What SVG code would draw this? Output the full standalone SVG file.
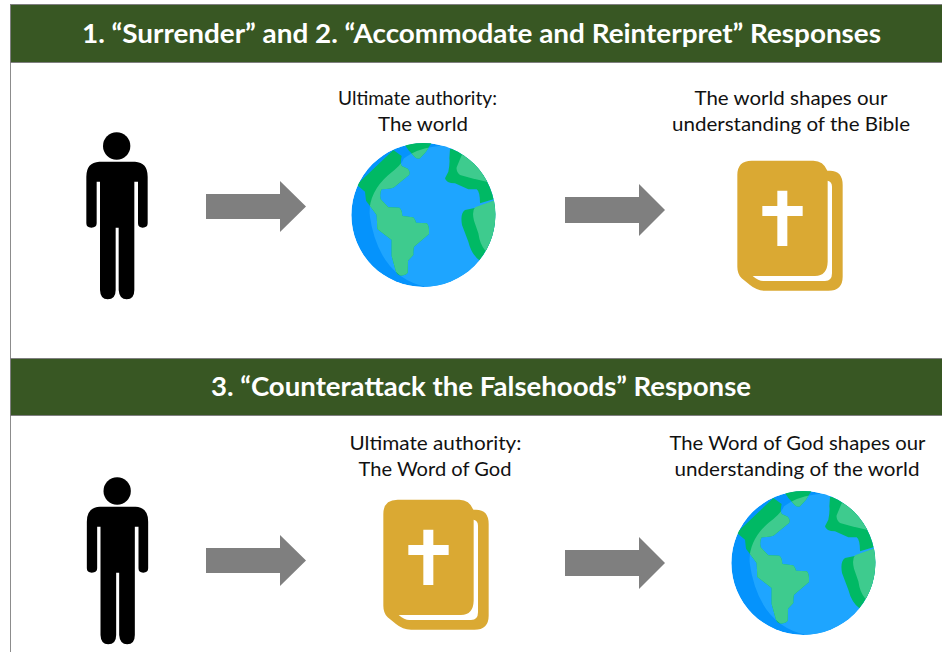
<svg xmlns="http://www.w3.org/2000/svg" width="942" height="652" viewBox="0 0 942 652">
<style>
text{font-family:"Lato","Noto Sans","Liberation Sans",sans-serif}
.hd{font-size:27px;font-weight:700;fill:#fff;text-anchor:middle}
.lb{font-size:20px;fill:#111;text-anchor:middle}
.band{fill:#385723;stroke:#7f7f7f;stroke-width:1}
.arrow{fill:#7f7f7f}
</style>
<defs>
<clipPath id="gc"><circle cx="250" cy="255" r="216"/></clipPath>
<clipPath id="ic"><path d="M265,472 Q115,445 88,250 Q88,185 145,135 Q185,105 192,85 Q225,58 280,50 L500,20 V500 Z"/></clipPath>
<path id="americas" d="M45,160 L55,160 L160,60 L185,78 Q180,100 185,108 L203,116 Q212,125 207,135 L162,172 Q155,177 125,178 Q118,190 122,208 L145,232 L178,233 Q186,238 187,258 L218,262 Q224,264 228,278 L260,280 Q268,285 267,312 L222,350 Q219,360 220,375 L204,392 L203,428 Q195,438 178,436 Q170,432 168,425 L155,378 L155,330 L112,297 L110,255 L78,212 L75,185 Z"/>
<path id="topland" d="M190,30 H280 L258,65 L240,85 Q230,87 225,82 L205,60 L195,45 Z"/>
<symbol id="globe" viewBox="0 0 510 510" overflow="visible">
<g clip-path="url(#gc)">
<circle cx="250" cy="255" r="216" fill="#0593fc"/>
<rect width="510" height="510" fill="#1ea5ff" clip-path="url(#ic)"/>
<use href="#americas" fill="#00b964"/>
<use href="#topland" fill="#00b964"/>
<g clip-path="url(#ic)"><use href="#americas" fill="#3ecb8e"/><use href="#topland" fill="#3ecb8e"/></g>
<path fill="#00b964" d="M330,57 L470,50 V205 L420,220 Q420,185 410,178 L385,178 L345,160 Q318,160 315,145 L325,125 Q330,100 328,85 Z"/>
<path fill="#3ecb8e" d="M365,76 L470,60 V150 L440,155 L395,145 L360,135 Q348,125 350,112 Z"/>
<path fill="#00b964" d="M415,232 L480,205 V400 L420,392 Q395,375 385,335 L366,285 Q360,250 375,240 Z"/>
<path fill="#3ecb8e" d="M405,232 L480,205 V340 L436,362 Q420,345 415,310 L402,272 Q395,245 405,232 Z"/>
</g>
</symbol>
<symbol id="book" viewBox="0 0 420 450" overflow="visible">
<path fill="#daa933" d="M95,32 H280 Q310,32 322,62 H330 Q368,62 368,105 V380 Q368,422 325,422 H135 Q110,422 90,405 L65,385 Q52,372 52,350 V75 Q52,32 95,32 Z"/>
<path fill="#fff" d="M323,92 Q336,95 336,110 V370 Q336,393 315,393 H130 Q115,393 98,378 H285 Q322,377 323,335 Z"/>
<path fill="#fff" d="M172,122 H202 V168 H248 V198 H202 V288 H172 V198 H127 V168 H172 Z"/>
</symbol>
<symbol id="person" viewBox="0 0 270 540" overflow="visible">
<circle cx="140" cy="63" r="41" fill="#000"/>
<path fill="#000" d="M88,110 H195 Q233,112 233,155 V295 Q233,308 218,308 Q204,308 204,295 V170 H193 V495 Q193,523 170,523 Q148,523 146,495 V308 H137 V495 Q137,523 113,523 Q91,523 90,495 V170 H80 V295 Q80,308 64,308 Q49,308 49,295 V155 Q49,112 88,110 Z"/>
</symbol>
</defs>
<rect width="942" height="652" fill="#fff"/>
<path d="M10.5,4 V652" stroke="#8c8c8c" stroke-width="1" fill="none"/>
<g id="header1"><rect class="band" x="10.5" y="4.5" width="932" height="58"/>
<text class="hd" x="481.5" y="43" textLength="799" lengthAdjust="spacingAndGlyphs">1. “Surrender” and 2. “Accommodate and Reinterpret” Responses</text></g>
<g id="header2"><rect class="band" x="10.5" y="358.5" width="932" height="57"/>
<text class="hd" x="481" y="396" textLength="540" lengthAdjust="spacingAndGlyphs">3. “Counterattack the Falsehoods” Response</text></g>
<g id="person1"><use href="#person" x="70" y="125" width="90" height="180"/></g>
<g id="globe1"><use href="#globe" x="340" y="130" width="170" height="170"/>
<text class="lb" x="417.5" y="105" textLength="159" lengthAdjust="spacingAndGlyphs">Ultimate authority:</text>
<text class="lb" x="423" y="131" textLength="90" lengthAdjust="spacingAndGlyphs">The world</text></g>
<g id="book1"><use href="#book" x="720" y="150" width="140" height="150"/>
<text class="lb" x="791" y="105" textLength="193" lengthAdjust="spacingAndGlyphs">The world shapes our</text>
<text class="lb" x="791" y="131" textLength="238" lengthAdjust="spacingAndGlyphs">understanding of the Bible</text></g>
<g id="person2"><use href="#person" x="70.5" y="470" width="90" height="180"/></g>
<g id="book2"><use href="#book" x="366" y="489" width="140" height="150"/>
<text class="lb" x="435.5" y="450" textLength="172" lengthAdjust="spacingAndGlyphs">Ultimate authority:</text>
<text class="lb" x="435" y="476" textLength="153" lengthAdjust="spacingAndGlyphs">The Word of God</text></g>
<g id="globe2"><use href="#globe" x="720" y="478" width="170" height="170"/>
<text class="lb" x="797.5" y="450" textLength="256" lengthAdjust="spacingAndGlyphs">The Word of God shapes our</text>
<text class="lb" x="797" y="476" textLength="245" lengthAdjust="spacingAndGlyphs">understanding of the world</text></g>
<g id="connectors">
<path class="arrow" d="M206,194 H280 V181 L306,206.5 L280,232 V219 H206 Z"/>
<path class="arrow" d="M565,197 H639 V184 L665,210 L639,236 V223 H565 Z"/>
<path class="arrow" d="M206,548 H280 V535 L306,560.5 L280,586 V573 H206 Z"/>
<path class="arrow" d="M565,550 H639 V537 L665,563 L639,589 V576 H565 Z"/>
</g>
</svg>
